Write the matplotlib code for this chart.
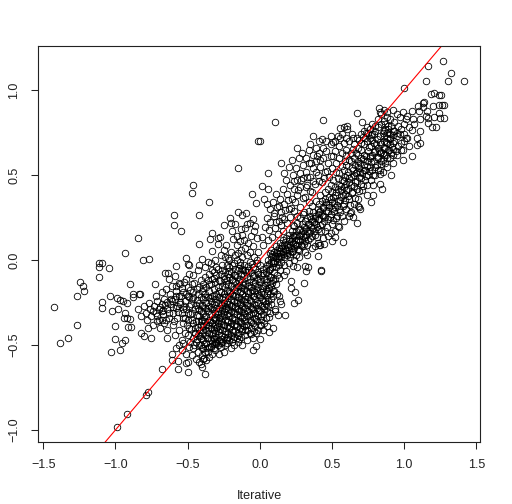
import numpy as np
import matplotlib
matplotlib.use('Agg')
import matplotlib.pyplot as plt

plt.rcParams['font.family'] = ['Liberation Sans', 'DejaVu Sans']

# values, grouped by part of the cloud
# (x = Iterative, y = the unnamed vertical variable)
far_left = [(-1.427,-0.278),(-1.263,-0.382),(-1.386,-0.49),(-1.326,-0.461),(-1.247,-0.127),(-1.226,-0.153),
    (-1.219,-0.184),(-1.266,-0.21),(-1.113,-0.098),(-1.115,-0.043),(-1.042,-0.047),(-1.09,-0.249),(-1.095,-0.28),
    (-1.095,-0.018),(-1.113,-0.02),(-1.037,-0.21),(-1.023,-0.302),(-0.979,-0.29),(-0.991,-0.222),(-0.968,-0.235),
    (-0.949,-0.239),(-0.921,-0.255),(-0.898,-0.139),(-0.875,-0.2),(-0.875,-0.22),(-0.834,-0.2),(-0.826,-0.2),
    (-0.933,-0.31),(-0.94,-0.343),(-0.921,-0.343),(-0.898,-0.347),(-1.002,-0.388),(-0.912,-0.394),(-0.889,-0.396),
    (-1.005,-0.467),(-0.933,-0.471),(-0.954,-0.49),(-0.965,-0.527),(-1.032,-0.539),(-0.822,-0.427),(-0.801,-0.447),
    (-0.755,-0.459),(-0.774,-0.398),(-0.64,-0.457),(-0.677,-0.643),(-0.771,-0.773),(-0.79,-0.792),(-0.919,-0.906),
    (-0.988,-0.984)]
upper_left = [(-0.01,0.70),(-0.152,0.543),(-0.462,0.439),(-0.467,0.392),(-0.349,0.343),(-0.596,0.267),(-0.42,0.267),
    (-0.594,0.204),(-0.547,0.173),(-0.841,0.129),(-0.935,0.043),(-0.42,0.094),(-0.806,0.0),(-0.767,0.004),
    (-0.051,0.388),(-0.028,0.333),(-0.15,0.282),(-0.125,0.263),(-0.092,0.276),(-0.203,0.245),(-0.245,0.206),
    (-0.199,0.216),(-0.171,0.212),(-0.33,0.161),(-0.344,0.122),(-0.275,0.137),(-0.289,0.127),(-0.187,0.124),
    (-0.233,0.088),(-0.291,0.092),(-0.328,0.055),(-0.508,0.012),(-0.397,0.004),(-0.497,-0.025),(-0.582,-0.035),
    (-0.423,-0.029),(-0.654,-0.075),(-0.633,-0.075),(-0.63,-0.114),(-0.587,-0.094),(-0.561,-0.135),(-0.727,-0.143),
    (-0.487,-0.082),(-0.49,-0.03),(-0.36,-0.01),(-0.34,-0.02),(-0.31,0.0),(-0.27,0.03),(-0.25,0.06),(-0.2,0.05),
    (-0.16,0.09),(-0.14,0.11),(-0.12,0.15),(-0.1,0.19),(-0.09,0.21),(-0.07,0.22),(-0.05,0.24),(-0.13,0.18),
    (-0.11,0.12),(-0.17,0.03),(-0.22,0.01),(-0.3,-0.04),(-0.26,-0.03),(-0.21,0.0),(-0.15,0.04),(-0.1,0.07),
    (-0.08,0.1),(-0.06,0.14),(-0.04,0.17),(-0.03,0.2),(-0.02,0.13),(-0.07,0.05),(-0.12,0.02),(-0.18,-0.02),
    (-0.13,0.06),(-0.09,0.03),(-0.05,0.08),(-0.01,0.05),(-0.04,0.02),(-0.16,0.14),(-0.19,0.17),(-0.24,0.02),
    (-0.14,-0.01),(-0.11,-0.03),(-0.07,-0.01),(-0.02,0.0),(-0.33,-0.06),(-0.38,-0.04),(-0.43,-0.06),(-0.46,-0.09)]
left_arm = [(-0.84,-0.29),(-0.82,-0.33),(-0.8,-0.27),(-0.79,-0.31),(-0.78,-0.35),(-0.77,-0.25),(-0.76,-0.29),
    (-0.75,-0.33),(-0.74,-0.38),(-0.73,-0.27),(-0.72,-0.31),(-0.72,-0.21),(-0.71,-0.24),(-0.7,-0.35),(-0.7,-0.29),
    (-0.69,-0.4),(-0.68,-0.26),(-0.68,-0.19),(-0.67,-0.32),(-0.66,-0.37),(-0.66,-0.23),(-0.65,-0.17),(-0.64,-0.29),
    (-0.64,-0.41),(-0.63,-0.34),(-0.62,-0.2),(-0.62,-0.26),(-0.61,-0.15),(-0.6,-0.31),(-0.6,-0.38),(-0.59,-0.23),
    (-0.59,-0.44),(-0.58,-0.18),(-0.58,-0.28),(-0.57,-0.34),(-0.56,-0.21),(-0.56,-0.41),(-0.55,-0.14),(-0.55,-0.26),
    (-0.54,-0.31),(-0.54,-0.47),(-0.53,-0.19),(-0.53,-0.37),(-0.52,-0.24),(-0.52,-0.43),(-0.51,-0.29),(-0.51,-0.11),
    (-0.5,-0.16),(-0.5,-0.35),(-0.5,-0.21),(-0.49,-0.4),(-0.49,-0.27),(-0.48,-0.48),(-0.48,-0.32),(-0.47,-0.14),
    (-0.47,-0.23),(-0.46,-0.37),(-0.46,-0.19),(-0.45,-0.43),(-0.45,-0.29),(-0.68,-0.3),(-0.65,-0.35),(-0.61,-0.24),
    (-0.57,-0.27),(-0.74,-0.3),(-0.71,-0.36),(-0.53,-0.29),(-0.52,-0.34),(-0.49,-0.22),(-0.47,-0.31),
    (-0.693,-0.277),(-0.674,-0.351),(-0.657,-0.262),(-0.631,-0.313),(-0.618,-0.228),(-0.604,-0.277),(-0.593,-0.357),
    (-0.577,-0.212),(-0.566,-0.303),(-0.553,-0.246),(-0.541,-0.164),(-0.534,-0.339),(-0.522,-0.272),(-0.513,-0.197),
    (-0.507,-0.382),(-0.496,-0.311),(-0.486,-0.176),(-0.478,-0.259),(-0.468,-0.352),(-0.459,-0.217),(-0.452,-0.133),
    (-0.447,-0.398),(-0.441,-0.266),(-0.437,-0.323),(-0.583,-0.151),(-0.544,-0.214),(-0.528,-0.129),(-0.497,-0.442),
    (-0.474,-0.408),(-0.462,-0.461),(-0.438,-0.171),(-0.433,-0.233),(-0.642,-0.244),(-0.667,-0.293),(-0.712,-0.327)]
low_edge = [(-0.607,-0.551),(-0.607,-0.59),(-0.58,-0.52),(-0.566,-0.592),(-0.566,-0.643),(-0.499,-0.661),(-0.51,-0.608),
    (-0.495,-0.598),(-0.4,-0.631),(-0.405,-0.612),(-0.379,-0.673),(-0.387,-0.578),(-0.395,-0.58),(-0.56,-0.5),
    (-0.54,-0.53),(-0.53,-0.49),(-0.51,-0.55),(-0.49,-0.51),(-0.47,-0.56),(-0.46,-0.52),(-0.44,-0.58),(-0.43,-0.54),
    (-0.42,-0.6),(-0.41,-0.5),(-0.4,-0.56),(-0.39,-0.52),(-0.37,-0.59),(-0.36,-0.54),(-0.35,-0.57),(-0.34,-0.51),
    (-0.33,-0.55),(-0.31,-0.53),(-0.3,-0.49),(-0.28,-0.55),(-0.27,-0.51),(-0.25,-0.54),(-0.23,-0.49),(-0.2,-0.52),
    (-0.18,-0.5),(-0.15,-0.48),(-0.12,-0.5),(-0.09,-0.47),(-0.05,-0.46),(-0.048,-0.527),(-0.028,-0.504),(0.005,-0.467),
    (0.065,-0.425),(0.092,-0.4),(0.062,-0.333),(0.104,-0.29),(0.108,-0.298),(0.127,-0.322),(0.176,-0.322),(0.15,-0.261),
    (0.141,-0.239),(0.136,-0.214),(0.076,-0.231),(0.266,-0.235),(0.238,-0.255),(0.242,-0.188),(0.219,-0.167),(0.217,-0.125),
    (0.303,-0.137),(0.423,-0.065),(0.337,-0.043),(0.314,-0.035),(0.319,-0.063),(0.229,-0.033),(0.261,-0.041),(0.182,-0.063),
    (0.132,-0.108),(0.165,-0.086),(0.406,0.022),(0.423,-0.059)]
core = [(-0.44,-0.48),(-0.43,-0.44),(-0.43,-0.36),(-0.43,-0.28),(-0.43,-0.2),(-0.42,-0.5),(-0.42,-0.41),(-0.42,-0.33),
    (-0.42,-0.25),(-0.42,-0.16),(-0.41,-0.46),(-0.41,-0.38),(-0.41,-0.3),(-0.41,-0.22),(-0.41,-0.12),(-0.4,-0.52),
    (-0.4,-0.43),(-0.4,-0.35),(-0.4,-0.27),(-0.4,-0.18),(-0.39,-0.47),(-0.39,-0.39),(-0.39,-0.31),(-0.39,-0.23),
    (-0.39,-0.14),(-0.38,-0.54),(-0.38,-0.44),(-0.38,-0.36),(-0.38,-0.28),(-0.38,-0.2),(-0.38,-0.1),(-0.37,-0.49),
    (-0.37,-0.41),(-0.37,-0.33),(-0.37,-0.25),(-0.37,-0.16),(-0.36,-0.46),(-0.36,-0.38),(-0.36,-0.3),(-0.36,-0.22),
    (-0.36,-0.12),(-0.35,-0.51),(-0.35,-0.43),(-0.35,-0.35),(-0.35,-0.27),(-0.35,-0.18),(-0.35,-0.08),(-0.34,-0.47),
    (-0.34,-0.4),(-0.34,-0.32),(-0.34,-0.24),(-0.34,-0.14),(-0.33,-0.49),(-0.33,-0.44),(-0.33,-0.37),(-0.33,-0.29),
    (-0.33,-0.21),(-0.33,-0.11),(-0.32,-0.52),(-0.32,-0.46),(-0.32,-0.41),(-0.32,-0.34),(-0.32,-0.26),(-0.32,-0.17),
    (-0.32,-0.07),(-0.31,-0.48),(-0.31,-0.43),(-0.31,-0.38),(-0.31,-0.31),(-0.31,-0.23),(-0.31,-0.13),(-0.3,-0.45),
    (-0.3,-0.4),(-0.3,-0.35),(-0.3,-0.28),(-0.3,-0.2),(-0.3,-0.09),(-0.29,-0.5),(-0.29,-0.42),(-0.29,-0.37),
    (-0.29,-0.32),(-0.29,-0.25),(-0.29,-0.16),(-0.29,-0.05),(-0.28,-0.47),(-0.28,-0.39),(-0.28,-0.34),(-0.28,-0.29),
    (-0.28,-0.22),(-0.28,-0.12),(-0.27,-0.44),(-0.27,-0.36),(-0.27,-0.31),(-0.27,-0.26),(-0.27,-0.19),(-0.27,-0.08),
    (-0.26,-0.48),(-0.26,-0.41),(-0.26,-0.33),(-0.26,-0.28),(-0.26,-0.23),(-0.26,-0.15),(-0.26,-0.06),(-0.25,-0.45),
    (-0.25,-0.38),(-0.25,-0.3),(-0.25,-0.25),(-0.25,-0.2),(-0.25,-0.11),(-0.24,-0.5),(-0.24,-0.42),(-0.24,-0.35),
    (-0.24,-0.27),(-0.24,-0.22),(-0.24,-0.16),(-0.24,-0.07),(-0.23,-0.46),(-0.23,-0.39),(-0.23,-0.32),(-0.23,-0.24),
    (-0.23,-0.18),(-0.23,-0.12),(-0.23,-0.03),(-0.22,-0.43),(-0.22,-0.36),(-0.22,-0.29),(-0.22,-0.21),(-0.22,-0.14),
    (-0.22,-0.08),(-0.21,-0.47),(-0.21,-0.4),(-0.21,-0.33),(-0.21,-0.26),(-0.21,-0.18),(-0.21,-0.1),(-0.21,-0.04),
    (-0.2,-0.44),(-0.2,-0.37),(-0.2,-0.3),(-0.2,-0.23),(-0.2,-0.15),(-0.2,-0.07),(-0.19,-0.48),(-0.19,-0.41),
    (-0.19,-0.34),(-0.19,-0.27),(-0.19,-0.2),(-0.19,-0.12),(-0.19,-0.03),(-0.18,-0.45),(-0.18,-0.38),(-0.18,-0.31),
    (-0.18,-0.24),(-0.18,-0.17),(-0.18,-0.09),(-0.17,-0.42),(-0.17,-0.35),(-0.17,-0.28),(-0.17,-0.21),(-0.17,-0.13),
    (-0.17,-0.05),(-0.16,-0.46),(-0.16,-0.39),(-0.16,-0.32),(-0.16,-0.25),(-0.16,-0.18),(-0.16,-0.1),(-0.16,0.0),
    (-0.15,-0.43),(-0.15,-0.36),(-0.15,-0.29),(-0.15,-0.22),(-0.15,-0.15),(-0.15,-0.06),(-0.14,-0.4),(-0.14,-0.33),
    (-0.14,-0.26),(-0.14,-0.19),(-0.14,-0.11),(-0.14,-0.03),(-0.13,-0.45),(-0.13,-0.37),(-0.13,-0.3),(-0.13,-0.23),
    (-0.13,-0.16),(-0.13,-0.08),(-0.12,-0.42),(-0.12,-0.34),(-0.12,-0.27),(-0.12,-0.2),(-0.12,-0.13),(-0.12,-0.05),
    (-0.11,-0.39),(-0.11,-0.31),(-0.11,-0.24),(-0.11,-0.17),(-0.11,-0.09),(-0.1,-0.44),(-0.1,-0.36),(-0.1,-0.28),
    (-0.1,-0.21),(-0.1,-0.14),(-0.1,-0.06),(-0.09,-0.41),(-0.09,-0.33),(-0.09,-0.25),(-0.09,-0.18),(-0.09,-0.1),
    (-0.08,-0.38),(-0.08,-0.3),(-0.08,-0.22),(-0.08,-0.15),(-0.08,-0.06),(-0.07,-0.43),(-0.07,-0.35),(-0.07,-0.27),
    (-0.07,-0.19),(-0.07,-0.11),(-0.06,-0.4),(-0.06,-0.32),(-0.06,-0.24),(-0.06,-0.16),(-0.06,-0.07),(-0.05,-0.37),
    (-0.05,-0.29),(-0.05,-0.21),(-0.05,-0.13),(-0.05,-0.04),(-0.04,-0.42),(-0.04,-0.34),(-0.04,-0.26),(-0.04,-0.18),
    (-0.04,-0.09),(-0.03,-0.39),(-0.03,-0.31),(-0.03,-0.23),(-0.03,-0.15),(-0.03,-0.05),(-0.02,-0.36),(-0.02,-0.28),
    (-0.02,-0.2),(-0.02,-0.11),(-0.02,-0.02),(-0.01,-0.41),(-0.01,-0.33),(-0.01,-0.25),(-0.01,-0.16),(-0.01,-0.07),
    (0.0,-0.38),(0.0,-0.3),(0.0,-0.22),(0.0,-0.13),(0.0,-0.03),(0.01,-0.35),(0.01,-0.27),(0.01,-0.19),(0.01,-0.09),
    (0.02,-0.41),(0.02,-0.32),(0.02,-0.24),(0.02,-0.15),(0.02,-0.05),(0.03,-0.37),(0.03,-0.29),(0.03,-0.2),(0.03,-0.11),
    (0.04,-0.34),(0.04,-0.26),(0.04,-0.17),(0.04,-0.07),(0.05,-0.39),(0.05,-0.3),(0.05,-0.22),(0.05,-0.13),(0.05,-0.03),
    (0.06,-0.27),(0.06,-0.18),(0.06,-0.09),(0.07,-0.31),(0.07,-0.2),(0.07,-0.14),(0.07,-0.05),(0.08,-0.26),(0.08,-0.16),
    (0.08,-0.1),(0.09,-0.21),(0.09,-0.12),(0.09,-0.02),(0.1,-0.18),(0.1,-0.07),(0.11,-0.14),(0.11,-0.04),(0.12,-0.2),
    (0.12,-0.09),(0.13,-0.03),(0.14,-0.06),(0.15,-0.01),(0.17,-0.03)]
core_fill = [(-0.437,-0.462),(-0.426,-0.392),(-0.418,-0.293),(-0.413,-0.447),(-0.406,-0.357),(-0.397,-0.263),(-0.394,-0.412),
    (-0.388,-0.496),(-0.383,-0.332),(-0.376,-0.218),(-0.372,-0.383),(-0.366,-0.457),(-0.361,-0.283),(-0.355,-0.397),(-0.347,-0.226),
    (-0.344,-0.362),(-0.339,-0.503),(-0.336,-0.278),(-0.327,-0.426),(-0.323,-0.353),(-0.316,-0.212),(-0.314,-0.467),(-0.307,-0.337),
    (-0.303,-0.247),(-0.296,-0.392),(-0.293,-0.478),(-0.287,-0.302),(-0.284,-0.182),(-0.277,-0.407),(-0.273,-0.333),(-0.267,-0.466),
    (-0.263,-0.267),(-0.256,-0.378),(-0.253,-0.217),(-0.246,-0.322),(-0.243,-0.433),(-0.236,-0.283),(-0.233,-0.138),(-0.226,-0.367),
    (-0.224,-0.256),(-0.217,-0.452),(-0.214,-0.313),(-0.207,-0.196),(-0.204,-0.387),(-0.197,-0.272),(-0.194,-0.113),(-0.187,-0.422),
    (-0.184,-0.213),(-0.177,-0.337),(-0.174,-0.268),(-0.167,-0.161),(-0.164,-0.376),(-0.157,-0.233),(-0.153,-0.443),(-0.147,-0.302),
    (-0.144,-0.121),(-0.137,-0.357),(-0.134,-0.246),(-0.127,-0.184),(-0.124,-0.408),(-0.117,-0.286),(-0.114,-0.147),(-0.107,-0.334),
    (-0.104,-0.229),(-0.097,-0.071),(-0.094,-0.383),(-0.087,-0.267),(-0.084,-0.193),(-0.077,-0.321),(-0.074,-0.128),(-0.067,-0.237),
    (-0.064,-0.362),(-0.057,-0.176),(-0.054,-0.279),(-0.047,-0.094),(-0.044,-0.314),(-0.037,-0.213),(-0.034,-0.137),(-0.027,-0.262),
    (-0.024,-0.346),(-0.017,-0.178),(-0.014,-0.083),(-0.007,-0.291),(-0.004,-0.207),(0.003,-0.114),(0.007,-0.331),(0.013,-0.231),
    (0.017,-0.166),(0.023,-0.074),(0.027,-0.273),(0.033,-0.147),(0.037,-0.239),(0.043,-0.046),(0.047,-0.191),(0.053,-0.111),
    (0.057,-0.238),(0.063,-0.058),(0.067,-0.164),(0.073,-0.098),(0.083,-0.041),(0.087,-0.137),(0.094,-0.184),(0.103,-0.113),
    (-0.452,-0.502),(-0.447,-0.426),(-0.441,-0.356),(-0.392,-0.164),(-0.353,-0.142),(-0.318,-0.106),(-0.274,-0.121),(-0.248,-0.092),
    (-0.213,-0.067),(-0.173,-0.086),(-0.143,-0.047),(-0.113,-0.057),(-0.083,-0.034),(-0.053,-0.021),(-0.364,-0.517),(-0.318,-0.496),
    (-0.268,-0.488),(-0.232,-0.468),(-0.186,-0.463),(-0.143,-0.463),(-0.103,-0.413),(-0.063,-0.432),(-0.028,-0.426),(0.012,-0.382)]
main_band = [(0.06,0.0),(0.07,0.04),(0.08,-0.01),(0.08,0.06),(0.09,0.02),(0.1,-0.02),(0.1,0.05),(0.11,0.01),(0.11,0.08),
    (0.12,-0.01),(0.12,0.04),(0.13,0.07),(0.13,0.01),(0.14,0.1),(0.14,0.04),(0.15,0.07),(0.15,0.02),(0.16,0.12),(0.16,0.05),
    (0.17,0.09),(0.17,0.02),(0.18,0.06),(0.18,0.13),(0.19,0.09),(0.19,0.03),(0.2,0.15),(0.2,0.06),(0.2,0.11),(0.21,0.02),
    (0.21,0.09),(0.22,0.13),(0.22,0.17),(0.22,0.05),(0.23,0.1),(0.23,0.15),(0.24,0.07),(0.24,0.2),(0.25,0.12),(0.25,0.03),
    (0.25,0.17),(0.26,0.09),(0.26,0.22),(0.27,0.14),(0.27,0.06),(0.28,0.18),(0.28,0.11),(0.28,0.25),(0.29,0.08),(0.29,0.21),
    (0.3,0.14),(0.3,0.17),(0.3,0.27),(0.31,0.11),(0.31,0.23),(0.32,0.19),(0.32,0.15),(0.33,0.25),(0.33,0.09),(0.34,0.21),
    (0.34,0.29),(0.35,0.17),(0.35,0.13),(0.35,0.26),(0.36,0.23),(0.36,0.32),(0.37,0.19),(0.37,0.28),(0.38,0.15),(0.38,0.25),
    (0.39,0.35),(0.39,0.21),(0.4,0.3),(0.4,0.27),(0.4,0.18),(0.41,0.33),(0.41,0.24),(0.42,0.38),(0.42,0.29),(0.43,0.21),
    (0.43,0.35),(0.44,0.31),(0.44,0.26),(0.45,0.4),(0.45,0.36),(0.45,0.17),(0.46,0.29),(0.46,0.33),(0.47,0.42),(0.47,0.24),
    (0.48,0.37),(0.48,0.31),(0.49,0.44),(0.49,0.27),(0.5,0.34),(0.5,0.4),(0.5,0.21),(0.51,0.47),(0.51,0.37),(0.52,0.31),
    (0.52,0.43),(0.53,0.25),(0.53,0.4),(0.54,0.48),(0.54,0.35),(0.55,0.44),(0.55,0.3),(0.55,0.51),(0.56,0.41),(0.56,0.37),
    (0.57,0.47),(0.57,0.26),(0.58,0.53),(0.58,0.43),(0.58,0.33),(0.59,0.49),(0.59,0.39),(0.6,0.45),(0.6,0.56),(0.6,0.3),
    (0.61,0.42),(0.61,0.52),(0.62,0.48),(0.62,0.36),(0.63,0.58),(0.63,0.44),(0.63,0.28),(0.64,0.54),(0.64,0.4),(0.65,0.5),
    (0.65,0.6),(0.65,0.33),(0.66,0.46),(0.66,0.56),(0.67,0.52),(0.67,0.42),(0.68,0.62),(0.68,0.58),(0.68,0.36),(0.69,0.49),
    (0.69,0.54),(0.7,0.45),(0.7,0.65),(0.7,0.6),(0.71,0.51),(0.71,0.41),(0.72,0.56),(0.72,0.68),(0.72,0.62),(0.73,0.47),
    (0.73,0.53),(0.74,0.7),(0.74,0.58),(0.74,0.44),(0.75,0.64),(0.75,0.5),(0.76,0.72),(0.76,0.6),(0.76,0.55),(0.77,0.67),
    (0.77,0.47),(0.78,0.74),(0.78,0.62),(0.78,0.53),(0.79,0.69),(0.79,0.58),(0.8,0.76),(0.8,0.64),(0.8,0.5),(0.81,0.71),
    (0.81,0.56),(0.82,0.78),(0.82,0.66),(0.82,0.6),(0.83,0.73),(0.83,0.53),(0.84,0.8),(0.84,0.68),(0.84,0.58),(0.85,0.75),
    (0.85,0.63),(0.86,0.7),(0.86,0.82),(0.87,0.77),(0.87,0.66),(0.88,0.72),(0.88,0.6),(0.89,0.79),(0.9,0.74),(0.9,0.68),
    (0.92,0.76),(0.93,0.7),(0.95,0.73),(0.96,0.67),(0.94,0.64),(0.91,0.63),(0.88,0.55),(0.85,0.52),(0.74,0.38),(0.69,0.31),
    (0.62,0.26),(0.58,0.23),(0.54,0.2),(0.49,0.16),(0.44,0.13),(0.4,0.1),(0.36,0.07),(0.31,0.05),(0.27,0.02),(0.24,0.0),
    (0.2,-0.02),(0.33,0.03),(0.38,0.08),(0.42,0.09),(0.47,0.14),(0.52,0.17)]
band_fill = [(0.064,-0.026),(0.077,0.017),(0.086,0.034),(0.093,-0.008),(0.104,0.022),(0.117,0.057),(0.123,0.023),(0.134,0.052),
    (0.143,0.021),(0.153,0.086),(0.163,0.034),(0.172,0.064),(0.177,0.107),(0.186,0.043),(0.193,0.077),(0.203,0.126),(0.207,0.036),
    (0.214,0.071),(0.226,0.113),(0.233,0.053),(0.237,0.143),(0.243,0.094),(0.254,0.146),(0.263,0.067),(0.268,0.117),(0.274,0.176),
    (0.283,0.086),(0.287,0.153),(0.293,0.126),(0.304,0.193),(0.307,0.097),(0.314,0.136),(0.326,0.171),(0.332,0.213),(0.337,0.116),
    (0.344,0.157),(0.353,0.196),(0.357,0.242),(0.363,0.143),(0.374,0.172),(0.377,0.226),(0.384,0.262),(0.393,0.193),(0.397,0.138),
    (0.404,0.243),(0.413,0.283),(0.417,0.204),(0.424,0.172),(0.433,0.266),(0.437,0.306),(0.443,0.227),(0.453,0.256),(0.457,0.343),
    (0.464,0.197),(0.473,0.287),(0.477,0.326),(0.483,0.253),(0.494,0.357),(0.497,0.298),(0.504,0.236),(0.513,0.337),(0.517,0.287),
    (0.524,0.383),(0.533,0.323),(0.537,0.262),(0.544,0.417),(0.553,0.356),(0.557,0.282),(0.563,0.436),(0.573,0.382),(0.577,0.316),
    (0.584,0.463),(0.593,0.353),(0.597,0.414),(0.604,0.502),(0.613,0.376),(0.617,0.457),(0.623,0.326),(0.633,0.486),(0.637,0.397),
    (0.643,0.527),(0.653,0.433),(0.657,0.367),(0.663,0.513),(0.673,0.463),(0.677,0.557),(0.684,0.406),(0.693,0.517),(0.697,0.573),
    (0.704,0.482),(0.713,0.593),(0.717,0.437),(0.723,0.527),(0.733,0.612),(0.737,0.497),(0.744,0.552),(0.753,0.664),(0.757,0.523),
    (0.763,0.612),(0.773,0.577),(0.777,0.706),(0.784,0.498),(0.793,0.633),(0.797,0.548),(0.804,0.682),(0.813,0.606),(0.817,0.527),
    (0.823,0.643),(0.833,0.697),(0.837,0.563),(0.843,0.637),(0.853,0.586),(0.857,0.727),(0.863,0.66),(0.873,0.693),(0.877,0.617),
    (0.883,0.748),(0.893,0.647),(0.903,0.713),(0.913,0.667),(0.923,0.736)]
upper_band = [(0.372,0.729),(0.43,0.714),(0.492,0.731),(0.51,0.696),(0.557,0.775),(0.607,0.788),(0.58,0.78),(0.607,0.773),
    (0.649,0.72),(0.557,0.716),(0.261,0.657),(0.15,0.569),(0.055,0.51),(0.169,0.51),(0.018,0.433),(0.06,0.416),(0.03,0.36),
    (0.05,0.33),(0.07,0.3),(0.09,0.34),(0.1,0.26),(0.11,0.39),(0.12,0.31),(0.13,0.23),(0.14,0.36),(0.15,0.28),(0.16,0.42),
    (0.17,0.33),(0.17,0.24),(0.18,0.47),(0.19,0.39),(0.2,0.3),(0.2,0.55),(0.21,0.44),(0.22,0.36),(0.22,0.59),(0.23,0.5),
    (0.24,0.42),(0.24,0.29),(0.25,0.54),(0.26,0.47),(0.26,0.38),(0.27,0.6),(0.28,0.51),(0.28,0.43),(0.29,0.63),(0.3,0.56),
    (0.3,0.48),(0.31,0.37),(0.32,0.6),(0.32,0.52),(0.33,0.44),(0.34,0.65),(0.34,0.57),(0.35,0.49),(0.35,0.68),(0.36,0.4),
    (0.37,0.62),(0.37,0.54),(0.38,0.45),(0.39,0.66),(0.39,0.58),(0.4,0.5),(0.41,0.7),(0.41,0.63),(0.42,0.55),(0.43,0.46),
    (0.44,0.66),(0.44,0.6),(0.45,0.52),(0.46,0.7),(0.46,0.64),(0.47,0.57),(0.48,0.49),(0.49,0.68),(0.49,0.61),(0.5,0.54),
    (0.52,0.7),(0.52,0.64),(0.53,0.57),(0.54,0.73),(0.55,0.67),(0.55,0.6),(0.57,0.74),(0.57,0.63),(0.58,0.69),(0.59,0.58),
    (0.6,0.72),(0.6,0.65),(0.62,0.7),(0.63,0.63),(0.64,0.74),(0.65,0.68),(0.67,0.72),(0.68,0.66),(0.7,0.74),(0.7,0.69),
    (0.672,0.865),(0.709,0.81),(0.441,0.825),(0.106,0.812),(0.002,0.702),(0.72,0.76),(0.74,0.78),(0.76,0.77),(0.73,0.72),
    (0.78,0.8),(0.75,0.75),(0.8,0.79),(0.82,0.83),
    (0.013,0.137),(0.024,0.088),(0.036,0.193),(0.047,0.247),(0.054,0.117),(0.067,0.176),(0.074,0.226),(0.083,0.137),(0.096,0.277),
    (0.103,0.187),(0.114,0.226),(0.126,0.153),(0.133,0.317),(0.146,0.204),(0.157,0.256),(0.164,0.173),(0.176,0.297),(0.186,0.217),
    (0.196,0.353),(0.208,0.254),(0.217,0.307),(0.227,0.206),(0.234,0.463),(0.246,0.343),(0.257,0.257),(0.267,0.413),(0.277,0.313),
    (0.287,0.47),(0.297,0.367),(0.307,0.283),(0.317,0.427),(0.328,0.487),(0.338,0.343),(0.347,0.407),(0.358,0.573),(0.367,0.463),
    (0.387,0.517),(0.397,0.613),(0.408,0.463),(0.418,0.587),(0.448,0.483),(0.467,0.523),(0.507,0.613),(0.527,0.516),(0.568,0.553),
    (0.598,0.617),(0.618,0.587),(0.648,0.652),(0.667,0.627),(0.688,0.704),(0.716,0.724),(0.736,0.747),(0.767,0.736),(0.79,0.74)]
top_right = [(1.411,1.055),(1.268,1.171),(1.321,1.102),(1.303,1.051),(1.162,1.141),(1.152,1.053),(1.0,1.01),(0.824,0.892),
    (1.277,0.835),(1.247,0.833),(1.219,0.784),(1.192,0.78),(1.24,0.867),(1.203,0.906),(1.279,0.914),(1.261,0.914),(1.24,0.912),
    (1.256,0.971),(1.238,0.971),(1.21,0.98),(1.185,0.975),(1.134,0.931),(1.13,0.925),(1.097,0.908),(1.051,0.876),(1.104,0.878),
    (1.159,0.878),(1.129,0.898),(1.21,0.843),(1.166,0.833),(1.166,0.808),(1.111,0.827),(1.15,0.849),(1.111,0.757),(1.051,0.765),
    (1.088,0.718),(1.113,0.688),(1.09,0.676),(1.035,0.671),(1.014,0.716),(0.991,0.647),(1.051,0.612),(0.995,0.588),(0.98,0.65),
    (0.924,0.655),(0.921,0.571),(0.912,0.502),(0.866,0.573),(0.834,0.504),(0.834,0.447),(0.848,0.418),(0.781,0.439),(0.781,0.382),
    (0.771,0.341),(0.695,0.298),(0.677,0.32),(0.674,0.22),(0.644,0.255),(0.626,0.275),(0.552,0.196),(0.575,0.106),(0.524,0.133),
    (0.499,0.112),(0.446,0.092),(0.413,0.09),(0.88,0.87),(0.92,0.88),(0.95,0.86),(0.97,0.84),(0.99,0.87),(1.01,0.83),(1.02,0.85),
    (0.9,0.83),(0.93,0.81),(0.96,0.79),(0.98,0.77),(1.0,0.8),(1.03,0.78),(1.06,0.83),(1.07,0.8),(0.97,0.74),(1.0,0.74),(1.02,0.72),
    (0.93,0.76),(0.95,0.75),(0.91,0.79),(0.88,0.84),(0.87,0.8),(0.86,0.76),(0.89,0.77),(0.84,0.86),(0.86,0.88),(0.83,0.87),
    (0.9,0.72),(0.88,0.69),(0.92,0.69),(0.98,0.69),(1.0,0.7),(0.95,0.62),(0.92,0.62),(0.9,0.6),(0.86,0.62),(0.83,0.63),(0.89,0.65)]

groups = [far_left, upper_left, left_arm, low_edge, core, core_fill, main_band, band_fill, upper_band, top_right]
points = np.array([p for g in groups for p in g])

fig = plt.figure(figsize=(5.12, 5.04), dpi=100)
ax = fig.add_axes([37.5/512, 1-442/504, 442.2/512, 396/504])
ax.plot(points[:, 0], points[:, 1], 'o', mfc='none', mec='black', ms=4.7, mew=0.6)
ax.axline((0, 0), slope=1, color='red', lw=0.8)

ax.set_xlim(-1.539, 1.523)
ax.set_ylim(-1.07, 1.259)
ax.set_xticks([-1.5, -1.0, -0.5, 0.0, 0.5, 1.0, 1.5])
ax.set_yticks([-1.0, -0.5, 0.0, 0.5, 1.0])
ax.tick_params(length=5, width=0.75, labelsize=9, pad=7.5, color='#222222', labelcolor='#222222')
plt.setp(ax.get_yticklabels(), rotation=90, va='center')
for s in ax.spines.values():
    s.set_linewidth(0.8)
    s.set_color('#222222')
fig.text(259/512, 1-496/504, 'Iterative', ha='center', va='center', fontsize=9.1, color='#222222')

plt.savefig('out.png', dpi=100)
